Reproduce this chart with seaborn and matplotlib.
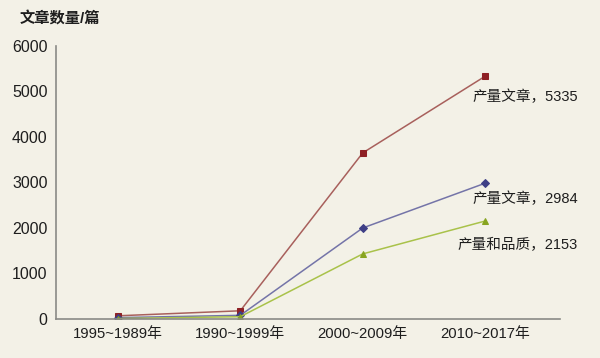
import pandas as pd
import matplotlib.pyplot as plt
import seaborn as sns

# 数据
periods = ['1995~1989年', '1990~1999年', '2000~2009年', '2010~2017年']
red_vals = [70, 180, 3650, 5335]
blue_vals = [30, 80, 2000, 2984]
green_vals = [10, 50, 1430, 2153]
series_names = ['产量文章A', '产量文章B', '产量和品质']
end_labels = ['产量文章，5335', '产量文章，2984', '产量和品质，2153']
label_drop = [-21, -16, -24]
yticks = [0, 1000, 2000, 3000, 4000, 5000, 6000]

df = pd.DataFrame({
    'period': periods * 3,
    'x': list(range(4)) * 3,
    'value': red_vals + blue_vals + green_vals,
    'series': [series_names[0]] * 4 + [series_names[1]] * 4 + [series_names[2]] * 4,
})

sns.set_style('white')
fonts = ['Liberation Sans', 'Noto Sans CJK SC', 'DejaVu Sans']
plt.rcParams['font.family'] = fonts

bg = '#f3f1e7'
fig = plt.figure(figsize=(6, 3.58), dpi=100, facecolor=bg)
ax = fig.add_axes([0.093, 0.109, 0.84, 0.7625])
ax.set_facecolor(bg)

line_colors = ['#a8605c', '#7474a8', '#a9c24a']
marker_colors = ['#8e2024', '#3e3f86', '#88a420']
markers = ['s', 'D', '^']
msizes = [5, 4, 5]

for name, lc, mc, mk, ms in zip(series_names, line_colors, marker_colors, markers, msizes):
    sub = df[df['series'] == name]
    sns.lineplot(data=sub, x='x', y='value', color=lc, linewidth=1.1,
                 marker=mk, markersize=ms, markerfacecolor=mc,
                 markeredgecolor=mc, ax=ax, legend=False)

# 末端标注
for txt, val, dy in zip(end_labels, [red_vals[-1], blue_vals[-1], green_vals[-1]], label_drop):
    ax.annotate(txt, xy=(3, val), xytext=(93, dy), textcoords='offset pixels',
                ha='right', va='center', fontsize=10.5, color='#1e1e1e')

ax.set_xlim(-0.507, 3.61)
ax.set_ylim(0, 6000)
ax.set_xticks(range(4))
ax.set_xticklabels(periods, fontsize=10.7, color='#1e1e1e')
ax.set_yticks(yticks)
ax.set_yticklabels([str(v) for v in yticks], fontsize=11.5, color='#1e1e1e')
ax.tick_params(length=0, pad=6)
ax.set_xlabel('')
ax.set_ylabel('')

for s in ['top', 'right']:
    ax.spines[s].set_visible(False)
for s in ['left', 'bottom']:
    ax.spines[s].set_color('#8a8a86')
    ax.spines[s].set_linewidth(1.2)

fig.text(0.033, 0.935, '文章数量/篇', fontsize=11, fontweight='bold', color='#1e1e1e')

fig.savefig('out.png', dpi=100, facecolor=bg)
